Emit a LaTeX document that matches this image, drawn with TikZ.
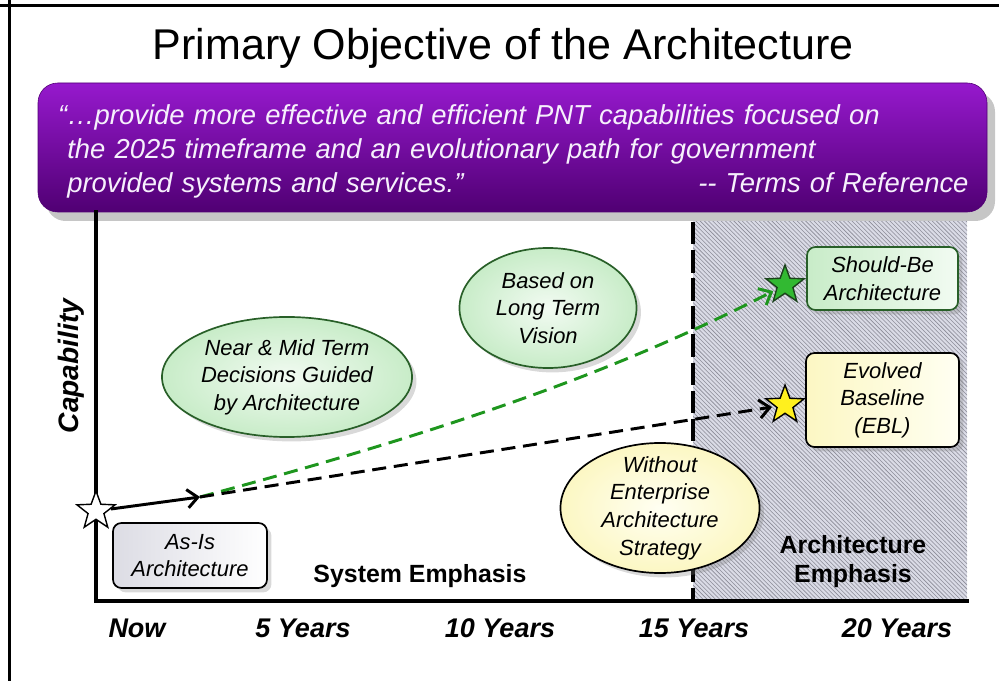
\documentclass[tikz,border=0pt]{standalone}
\usepackage{fontspec}
\setmainfont{Liberation Sans}
\usetikzlibrary{shapes.geometric,arrows.meta,patterns,shadows,positioning}

\definecolor{bantop}{RGB}{150,25,205}
\definecolor{banmid}{RGB}{138,0,198}
\definecolor{banbot}{RGB}{80,0,115}
\definecolor{quotecol}{RGB}{246,240,252}
\definecolor{leaf}{RGB}{40,95,40}
\definecolor{leaffill}{RGB}{200,236,200}
\definecolor{leaflight}{RGB}{242,251,242}
\definecolor{cream}{RGB}{252,247,195}
\definecolor{creamlight}{RGB}{255,255,242}
\definecolor{dashgreen}{RGB}{30,150,30}
\definecolor{stargreen}{RGB}{50,185,50}
\definecolor{staryellow}{RGB}{255,240,30}
\definecolor{hatchbg}{RGB}{218,219,230}
\definecolor{hatchline}{RGB}{140,140,152}
\definecolor{asisfill}{RGB}{220,220,228}

\begin{document}
\begin{tikzpicture}[
    x=0.025cm, y=-0.025cm,
    title/.style={font=\fontsize{30.6}{36}\selectfont},
    quote/.style={font=\fontsize{19.5}{24.2}\selectfont\itshape, color=quotecol, text width=22.525cm, align=left, inner sep=0pt},
    bubble/.style={ellipse, draw=#1, line width=1.2pt, align=center, inner sep=0pt,
        font=\fontsize{15.6}{19.6}\selectfont\itshape,
        drop shadow={shadow xshift=1.1mm, shadow yshift=-1.1mm, opacity=0.3}},
    tag/.style={rectangle, rounded corners=6pt, draw=#1, line width=1.2pt, align=center, inner sep=0pt,
        font=\fontsize{15.6}{19.6}\selectfont\itshape,
        drop shadow={shadow xshift=1.1mm, shadow yshift=-1.1mm, opacity=0.3}},
    starnode/.style={star, star points=5, star point ratio=2.4, inner sep=0pt, minimum size=1cm,
        draw=black, line width=1pt, fill=#1},
    emph/.style={font=\fontsize{17.7}{20.6}\selectfont\bfseries, align=center},
    yearlab/.style={font=\fontsize{19.2}{23}\selectfont\bfseries\itshape, anchor=base},
    axis/.style={line width=2.2pt, line cap=rect},
    divider/.style={line width=2.8pt, dash pattern=on 16pt off 4pt},
    solidarr/.style={line width=2.1pt, -{Straight Barb[length=2.6mm, width=4.6mm]}},
    dashline/.style={draw=#1, line width=2.1pt, dash pattern=on 10pt off 5.5pt,
        -{Straight Barb[length=2.6mm, width=4.6mm]}, shorten >=2pt}
]
% Dimensions (pixels)
\def\divx{693} \def\axisx{96} \def\axisy{601} \def\rightx{967}

\useasboundingbox (0,0) rectangle (999,681);

% Frame
\draw[line width=2.8pt] (0,5.5) -- (999,5.5);
\draw[line width=1.8pt] (9.5,0) -- (9.5,681);

% Title
\node[title, anchor=base] (title) at (503,60) {Primary Objective of the Architecture};

% Hatched area
\fill[hatchbg] (\divx,212) rectangle (\rightx,\axisy);
\fill[pattern=north west lines, pattern color=hatchline] (\divx,212) rectangle (\rightx,\axisy);

% Banner
\fill[gray!45, rounded corners=14pt] (46,92) rectangle (995,221);
\draw[banbot, top color=bantop, middle color=banmid, bottom color=banbot, rounded corners=14pt]
    (38,83) rectangle (987,212);
\node[quote, anchor=north west] (quote) at (67,104)
    {\llap{“}…provide more effective and efficient PNT capabilities focused on\\
     the 2025 timeframe and an evolutionary path for government\\
     provided systems and services.”\hfill -{}- Terms of Reference};

% Axes
\coordinate (ytop) at (\axisx,212);
\coordinate (origin) at (\axisx,\axisy);
\coordinate (xend) at (\rightx,\axisy);
\draw[axis] (ytop) -- (origin) -- (xend);
\coordinate (divtop) at (\divx,222);
\coordinate (divbot) at (\divx,\axisy);
\draw[divider] (divtop) -- (divbot);

% Bubbles
\node[bubble=leaf, inner color=leaflight, outer color=leaffill, minimum width=4.425cm, minimum height=3cm]
    (vision) at (548,308) {Based on\\Long Term\\Vision};
\node[bubble=leaf, inner color=leaflight, outer color=leaffill, minimum width=6.25cm, minimum height=3cm]
    (nearmid) at (287,377) {Near \& Mid Term\\Decisions Guided\\by Architecture};
\node[bubble=black, inner color=creamlight, outer color=cream, minimum width=4.975cm, minimum height=3.25cm, inner ysep=-5pt]
    (noea) at (660,508) {Without\\Enterprise\\Architecture\\Strategy};

% Boxes
\node[tag=leaf, left color=leaffill, right color=leaflight, minimum width=3.775cm, minimum height=1.575cm]
    (shouldbe) at (882.5,278.5) {Should-Be\\Architecture};
\node[tag=black, left color=cream, right color=creamlight, minimum width=3.825cm, minimum height=2.35cm]
    (ebl) at (882.5,400) {Evolved\\Baseline\\(EBL)};
\node[tag=black, left color=asisfill, right color=white, minimum width=3.85cm, minimum height=1.625cm]
    (asis) at (190,555.5) {As-Is\\Architecture};

% Stars and paths
\node[starnode=white] (nowstar) at (\axisx,511) {};
\node[starnode=stargreen, draw=leaf!70!black] (shouldstar) at (785,285) {};
\node[starnode=staryellow] (eblstar) at (785,405) {};
\coordinate (fork) at (200,497);
\draw[dashline=dashgreen] (fork) .. controls (450,430) and (620,370) .. (shouldstar);
\draw[dashline=black] (fork) -- (eblstar);
\draw[solidarr] (nowstar) -- (fork);

% Labels
\node[font=\fontsize{20}{24}\selectfont\bfseries\itshape, rotate=90, anchor=base] (capability) at (78,366) {Capability};
\node[emph, anchor=base] (sysemph) at (420,582) {System Emphasis};
\node[emph] (archemph) at (853,562) {Architecture\\Emphasis};
\node[yearlab] (now) at (137,637) {Now};
\node[yearlab] (y5) at (303,637) {5 Years};
\node[yearlab] (y10) at (500,637) {10 Years};
\node[yearlab] (y15) at (694,637) {15 Years};
\node[yearlab] (y20) at (897,637) {20 Years};

\end{tikzpicture}
\end{document}
